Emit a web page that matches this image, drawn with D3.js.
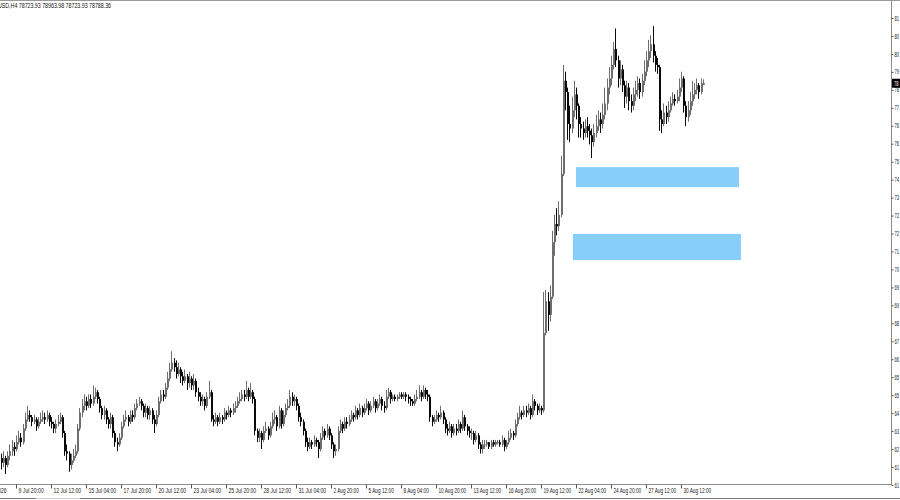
<!DOCTYPE html>
<html><head><meta charset="utf-8">
<script src="https://cdn.jsdelivr.net/npm/d3@7"></script>
<style>html,body{margin:0;padding:0;background:#fff;overflow:hidden}svg{display:block}</style>
</head><body><svg id="c" width="900" height="500"></svg>
<script>
const open=[62.3,62.1,62.3,62.0,62.4,62.6,62.8,62.7,63.0,63.2,
63.0,63.6,64.0,64.2,64.1,63.9,64.0,63.7,63.9,64.0,
64.1,64.0,64.2,63.9,63.8,63.6,63.8,63.9,64.1,63.4,
62.6,62.5,62.0,62.2,62.4,62.6,63.6,64.3,64.6,64.8,
64.6,64.9,64.7,65.0,65.2,64.9,64.5,64.2,64.4,64.0,
63.8,64.1,63.4,63.0,62.9,63.2,63.7,64.0,64.1,63.9,
64.2,64.1,64.5,64.7,64.8,64.6,64.3,64.5,64.2,64.4,
64.0,63.8,64.2,64.8,65.1,65.0,65.4,65.8,66.2,66.5,
66.3,66.0,66.2,65.9,65.7,65.9,65.6,65.8,65.5,65.7,
65.2,65.0,64.8,64.9,64.6,65.0,65.2,64.0,63.9,64.1,
63.9,64.1,64.0,64.3,64.2,64.4,64.3,64.5,64.6,64.8,
64.9,65.1,65.0,65.3,65.0,65.2,64.9,63.5,63.2,63.4,
63.1,63.5,63.6,63.3,63.7,64.0,64.1,63.7,64.4,63.8,
64.2,64.5,64.6,65.0,64.8,64.9,64.6,64.1,63.9,63.5,
63.0,62.8,63.0,62.9,63.1,63.0,62.7,63.2,63.5,63.3,
63.6,63.3,62.9,62.6,62.7,63.5,63.8,63.6,63.9,63.8,
64.0,64.2,64.1,64.4,64.2,64.5,64.3,64.5,64.7,64.4,
64.6,64.8,64.5,64.7,64.9,64.6,64.5,65.0,65.2,64.9,
65.0,64.9,65.0,65.1,65.0,65.1,65.0,64.9,64.8,64.7,
64.9,65.0,65.2,65.0,65.3,65.1,65.0,64.1,63.9,64.0,
64.2,64.1,64.3,64.0,63.6,63.5,63.7,63.4,63.6,63.5,
63.8,63.6,64.1,63.7,63.5,63.4,63.4,63.1,63.3,62.9,
62.7,62.9,62.9,63.0,62.8,63.0,62.9,63.0,63.0,62.9,
63.1,62.8,63.0,63.2,63.4,63.3,63.8,64.1,64.3,64.2,
64.4,64.3,64.5,64.2,64.8,64.6,64.4,64.5,64.4,67.8,
69.2,68.6,69.4,71.8,72.6,72.5,73.0,74.8,78.9,78.4,
77.0,76.8,77.6,78.3,77.8,77.0,76.8,76.6,76.9,76.7,
76.5,76.2,76.6,76.9,77.2,77.0,77.4,77.9,78.6,79.0,
79.6,80.3,79.8,79.0,79.4,78.7,78.2,78.6,78.0,77.8,
78.3,78.5,78.8,78.4,78.9,79.3,79.8,80.2,80.5,80.0,
79.6,79.5,77.2,77.0,77.5,77.3,77.6,77.9,78.1,78.0,
78.2,78.6,79.0,77.8,77.3,77.6,78.0,78.3,78.5,78.7,
78.4,78.72];
const high=[62.5,62.6,62.4,62.6,62.9,63.1,63.0,63.3,63.5,63.4,
63.8,64.3,64.6,64.4,64.2,64.2,64.1,64.1,64.3,64.4,
64.3,64.4,64.3,64.1,63.9,64.0,64.2,64.3,64.2,63.5,
62.9,62.6,62.5,62.7,62.9,63.8,64.5,64.9,65.1,65.0,
65.1,65.1,65.5,65.4,65.3,65.0,64.6,64.6,64.5,64.1,
64.3,64.2,63.5,63.2,63.4,63.9,64.2,64.4,64.2,64.4,
64.4,64.7,64.9,65.0,64.9,64.7,64.7,64.6,64.6,64.5,
64.2,64.4,65.0,65.3,65.3,65.6,66.1,66.5,67.0,66.7,
66.6,66.5,66.3,66.1,66.2,66.0,66.1,65.9,66.0,65.8,
65.4,65.2,65.1,65.0,65.2,65.7,65.3,64.2,64.3,64.2,
64.3,64.2,64.5,64.4,64.6,64.5,64.7,64.8,65.0,65.2,
65.3,65.3,65.7,65.4,65.6,65.3,65.0,63.6,63.6,63.5,
63.7,63.9,63.7,63.9,64.3,64.4,64.2,64.6,64.5,64.4,
64.7,64.9,65.3,65.2,65.1,65.0,64.7,64.3,64.0,63.6,
63.2,63.2,63.1,63.3,63.2,63.1,63.4,63.7,63.6,63.8,
63.7,63.4,63.0,62.9,63.7,64.0,63.9,64.1,64.1,64.2,
64.4,64.3,64.6,64.5,64.7,64.6,64.7,64.9,64.8,64.8,
65.0,64.9,64.9,65.1,65.0,64.8,65.3,65.4,65.3,65.1,
65.1,65.1,65.2,65.2,65.2,65.2,65.1,65.0,64.9,65.1,
65.3,65.5,65.3,65.5,65.4,65.3,65.1,64.2,64.2,64.4,
64.3,64.6,64.4,64.1,63.8,63.9,63.8,63.8,63.8,64.0,
63.9,64.4,64.2,63.8,63.7,63.6,63.5,63.5,63.4,63.0,
63.1,63.1,63.1,63.0,63.1,63.1,63.1,63.1,63.1,63.3,
63.2,63.1,63.5,63.6,63.5,64.0,64.3,64.6,64.4,64.6,
64.6,64.7,64.6,65.1,64.9,64.7,64.7,64.6,69.6,69.7,
69.6,69.9,72.3,73.0,73.3,73.6,75.6,79.6,79.3,78.6,
77.8,78.2,78.9,78.6,77.9,77.3,77.1,77.2,77.3,77.0,
76.8,77.0,77.4,77.6,77.5,77.9,78.6,79.0,79.5,80.0,
80.6,81.2,80.0,79.8,79.6,78.9,78.9,78.8,78.3,78.6,
78.9,79.1,79.0,79.2,79.8,80.2,80.7,80.9,81.3,80.2,
79.9,79.6,77.6,77.9,77.8,78.0,78.2,78.4,78.3,78.5,
79.0,79.3,79.1,78.0,78.0,78.4,78.9,78.8,79.0,78.8,
79.0,78.96];
const low=[61.8,61.9,61.6,61.9,62.2,62.4,62.4,62.6,62.9,62.8,
62.9,63.5,63.9,63.9,63.7,63.8,63.5,63.6,63.8,63.9,
63.8,63.9,63.7,63.6,63.4,63.4,63.7,63.8,63.2,62.4,
62.2,61.7,61.8,62.1,62.3,62.5,63.5,64.1,64.4,64.4,
64.5,64.5,64.6,64.9,64.7,64.3,64.0,64.0,63.8,63.6,
63.6,63.2,62.8,62.6,62.8,63.1,63.6,63.9,63.7,63.8,
63.9,64.0,64.4,64.6,64.4,64.1,64.1,64.0,64.0,63.8,
63.4,63.7,64.1,64.7,64.8,64.9,65.3,65.7,66.1,66.1,
65.8,65.9,65.6,65.5,65.6,65.3,65.4,65.3,65.3,65.0,
64.8,64.6,64.6,64.4,64.5,64.9,63.9,63.7,63.8,63.7,
63.8,63.8,63.9,64.0,64.1,64.1,64.2,64.3,64.5,64.7,
64.8,64.8,64.9,64.8,64.9,64.7,63.3,63.0,63.0,62.7,
63.0,63.4,63.1,63.2,63.6,63.8,63.5,63.6,63.6,63.7,
64.1,64.4,64.5,64.6,64.6,64.4,63.9,63.7,63.3,62.8,
62.6,62.7,62.7,62.8,62.8,62.3,62.6,63.1,63.1,63.2,
63.1,62.7,62.3,62.4,62.6,63.4,63.4,63.5,63.6,63.7,
63.9,63.9,64.0,64.0,64.1,64.1,64.2,64.4,64.2,64.3,
64.5,64.3,64.4,64.6,64.4,64.3,64.4,64.9,64.7,64.8,
64.8,64.8,64.9,64.9,64.9,64.8,64.7,64.6,64.6,64.6,
64.8,64.9,64.8,64.9,64.9,64.8,63.9,63.7,63.8,63.9,
63.9,64.0,63.8,63.4,63.3,63.4,63.2,63.3,63.3,63.4,
63.4,63.5,63.5,63.3,63.2,63.1,62.9,63.0,62.7,62.5,
62.5,62.7,62.8,62.7,62.7,62.8,62.8,62.9,62.8,62.8,
62.6,62.7,62.9,63.1,63.1,63.2,63.7,64.0,64.0,64.1,
64.1,64.2,64.0,64.1,64.4,64.2,64.3,64.2,64.3,67.7,
67.9,68.3,69.3,71.2,72.1,72.3,72.9,74.7,77.6,76.3,
76.2,76.6,77.3,77.2,76.4,76.4,76.3,76.4,76.4,76.1,
75.5,76.0,76.4,76.7,76.6,76.8,77.2,77.6,78.3,78.7,
79.4,79.5,78.6,78.7,78.4,77.7,77.9,77.6,77.5,77.6,
78.0,78.2,78.1,78.2,78.7,79.1,79.5,79.9,79.7,79.3,
79.2,76.7,76.6,76.9,77.0,77.1,77.5,77.8,77.8,77.9,
78.0,78.4,77.5,76.9,77.1,77.4,77.8,78.1,78.3,78.1,
78.3,78.72];
const close=[62.1,62.3,62.0,62.4,62.6,62.8,62.7,63.0,63.2,63.0,
63.6,64.0,64.2,64.1,63.9,64.0,63.7,63.9,64.0,64.1,
64.0,64.2,63.9,63.8,63.6,63.8,63.9,64.1,63.4,62.6,
62.5,62.0,62.2,62.4,62.6,63.6,64.3,64.6,64.8,64.6,
64.9,64.7,65.0,65.2,64.9,64.5,64.2,64.4,64.0,63.8,
64.1,63.4,63.0,62.9,63.2,63.7,64.0,64.1,63.9,64.2,
64.1,64.5,64.7,64.8,64.6,64.3,64.5,64.2,64.4,64.0,
63.8,64.2,64.8,65.1,65.0,65.4,65.8,66.2,66.5,66.3,
66.0,66.2,65.9,65.7,65.9,65.6,65.8,65.5,65.7,65.2,
65.0,64.8,64.9,64.6,65.0,65.2,64.0,63.9,64.1,63.9,
64.1,64.0,64.3,64.2,64.4,64.3,64.5,64.6,64.8,64.9,
65.1,65.0,65.3,65.0,65.2,64.9,63.5,63.2,63.4,63.1,
63.5,63.6,63.3,63.7,64.0,64.1,63.7,64.4,63.8,64.2,
64.5,64.6,65.0,64.8,64.9,64.6,64.1,63.9,63.5,63.0,
62.8,63.0,62.9,63.1,63.0,62.7,63.2,63.5,63.3,63.6,
63.3,62.9,62.6,62.7,63.5,63.8,63.6,63.9,63.8,64.0,
64.2,64.1,64.4,64.2,64.5,64.3,64.5,64.7,64.4,64.6,
64.8,64.5,64.7,64.9,64.6,64.5,65.0,65.2,64.9,65.0,
64.9,65.0,65.1,65.0,65.1,65.0,64.9,64.8,64.7,64.9,
65.0,65.2,65.0,65.3,65.1,65.0,64.1,63.9,64.0,64.2,
64.1,64.3,64.0,63.6,63.5,63.7,63.4,63.6,63.5,63.8,
63.6,64.1,63.7,63.5,63.4,63.4,63.1,63.3,62.9,62.7,
62.9,62.9,63.0,62.8,63.0,62.9,63.0,63.0,62.9,63.1,
62.8,63.0,63.2,63.4,63.3,63.8,64.1,64.3,64.2,64.4,
64.3,64.5,64.2,64.8,64.6,64.4,64.5,64.4,67.8,69.2,
68.6,69.4,71.8,72.6,72.5,73.0,74.8,78.9,78.4,77.0,
76.8,77.6,78.3,77.8,77.0,76.8,76.6,76.9,76.7,76.5,
76.2,76.6,76.9,77.2,77.0,77.4,77.9,78.6,79.0,79.6,
80.3,79.8,79.0,79.4,78.7,78.2,78.6,78.0,77.8,78.3,
78.5,78.8,78.4,78.9,79.3,79.8,80.2,80.5,80.0,79.6,
79.5,77.2,77.0,77.5,77.3,77.6,77.9,78.1,78.0,78.2,
78.6,79.0,77.8,77.3,77.6,78.0,78.3,78.5,78.7,78.4,
78.8,78.79];

const priceTicks=[81.66,80.87,80.08,79.29,78.50,77.71,76.92,76.13,75.34,74.55,73.76,72.97,72.18,71.39,70.60,69.81,69.02,68.23,67.44,66.65,65.86,65.07,64.28,63.49,62.70,61.91,61.12];
const priceLabels=["81","80","80","79","78","77","76","76","75","74","73","72","72","71","70","69","69","68","67","66","65","65","64","63","62","61","61"];
const timeTickBars=[-9,7,23,39,55,71,87,103,119,135,151,167,183,199,215,231,247,263,279,295,311];
const timeLabels=["7 Jul 2026","9 Jul 20:00","12 Jul 12:00","15 Jul 04:00","17 Jul 20:00","20 Jul 12:00","23 Jul 04:00","25 Jul 20:00","28 Jul 12:00","31 Jul 04:00","2 Aug 20:00","5 Aug 12:00","8 Aug 04:00","10 Aug 20:00","13 Aug 12:00","16 Aug 20:00","19 Aug 12:00","22 Aug 04:00","24 Aug 20:00","27 Aug 12:00","30 Aug 12:00"];
const zoneFrom=[263.0,261.6];
const zoneTo=[337.5,338.4];
const zoneTop=[75.10,72.16];
const zoneBottom=[74.22,71.01];
const titleText="USD,H4 78723.93 78963.98 78723.93 78788.36";
const lastPrice=78.79;
const lastPriceText="78";

const svg=d3.select("#c");
const W=900,H=500,axisX=891,axisY=484;
const x=d3.scaleLinear().domain([0,406]).range([0.7,888.8]);
const y=d3.scaleLinear().domain([61.162,81.66]).range([484,18]);
const font="'Liberation Sans Narrow', 'Liberation Sans', Arial, sans-serif";

// top frame
svg.append("line").attr("x1",0).attr("x2",W).attr("y1",0.5).attr("y2",0.5).attr("stroke","#9a9a9a");

// zones
const zg=svg.append("g");
zoneFrom.forEach((f,i)=>{
  zg.append("rect").attr("x",x(f)).attr("width",x(zoneTo[i])-x(f))
    .attr("y",y(zoneTop[i])).attr("height",y(zoneBottom[i])-y(zoneTop[i]))
    .attr("fill","#87cefa");
});

// bars
const bg=svg.append("g");
close.forEach((c,i)=>{
  const o=open[i],h=high[i],l=low[i];
  const px=Math.round(x(i));
  const up=c>=o;
  const col=up?"#6e6e6e":"#0a0a0a";
  bg.append("line").attr("x1",px+0.5).attr("x2",px+0.5)
    .attr("y1",y(h)).attr("y2",y(l)).attr("stroke",col).attr("stroke-width",1);
  const top=y(Math.max(o,c)),bot=y(Math.min(o,c));
  bg.append("rect").attr("x",px).attr("width",2)
    .attr("y",top).attr("height",Math.max(bot-top,1)).attr("fill",col);
});

// axes lines
svg.append("line").attr("x1",axisX+0.5).attr("x2",axisX+0.5).attr("y1",0).attr("y2",axisY+0.5).attr("stroke","#8c8c8c");
svg.append("line").attr("x1",0).attr("x2",axisX+1).attr("y1",axisY+0.5).attr("y2",axisY+0.5).attr("stroke","#8c8c8c");

// right price axis
const ya=d3.axisRight(y).tickValues(priceTicks).tickSize(2).tickPadding(1)
  .tickFormat((d,i)=>priceLabels[i]);
const yg=svg.append("g").attr("transform",`translate(${axisX+0.5},0)`).call(ya);
yg.select(".domain").remove();
yg.selectAll(".tick line").attr("stroke","#555");
yg.selectAll(".tick text").attr("font-family",font).attr("font-size",6.5).attr("fill","#222")
  .attr("textLength",4.6).attr("lengthAdjust","spacingAndGlyphs");

// current price marker
svg.append("rect").attr("x",axisX+1).attr("y",y(lastPrice)-4.5).attr("width",W-axisX).attr("height",9).attr("fill","#000");
svg.append("text").attr("x",axisX+3).attr("y",y(lastPrice)+2.5).text(lastPriceText)
  .attr("font-family",font).attr("font-size",6.5).attr("fill","#fff")
  .attr("textLength",4.6).attr("lengthAdjust","spacingAndGlyphs");

// bottom time axis
const xa=d3.axisBottom(x).tickValues(timeTickBars).tickSize(4).tickPadding(2)
  .tickFormat((d,i)=>timeLabels[i]);
const xg=svg.append("g").attr("transform",`translate(0,${axisY+0.5})`).call(xa);
xg.select(".domain").remove();
xg.selectAll(".tick line").attr("stroke","#555");
xg.selectAll(".tick text").attr("font-family",font).attr("font-size",6.5).attr("fill","#222")
  .attr("text-anchor","start").attr("x",2).attr("y",4).attr("dy","0.71em")
  .attr("textLength",(d,i)=>timeLabels[i].length*2.3)
  .attr("lengthAdjust","spacingAndGlyphs");

// bottom frame
svg.append("line").attr("x1",0).attr("x2",W).attr("y1",498.5).attr("y2",498.5).attr("stroke","#7a7a7a");
svg.append("line").attr("x1",36).attr("x2",80).attr("y1",498.5).attr("y2",498.5).attr("stroke","#d0d0d0");

// title
svg.append("text").attr("x",-2).attr("y",7.5).text(titleText)
  .attr("font-family","'Liberation Sans', Arial, sans-serif").attr("font-size",7).attr("fill","#111")
  .attr("textLength",113).attr("lengthAdjust","spacingAndGlyphs");
</script>
</body></html>
